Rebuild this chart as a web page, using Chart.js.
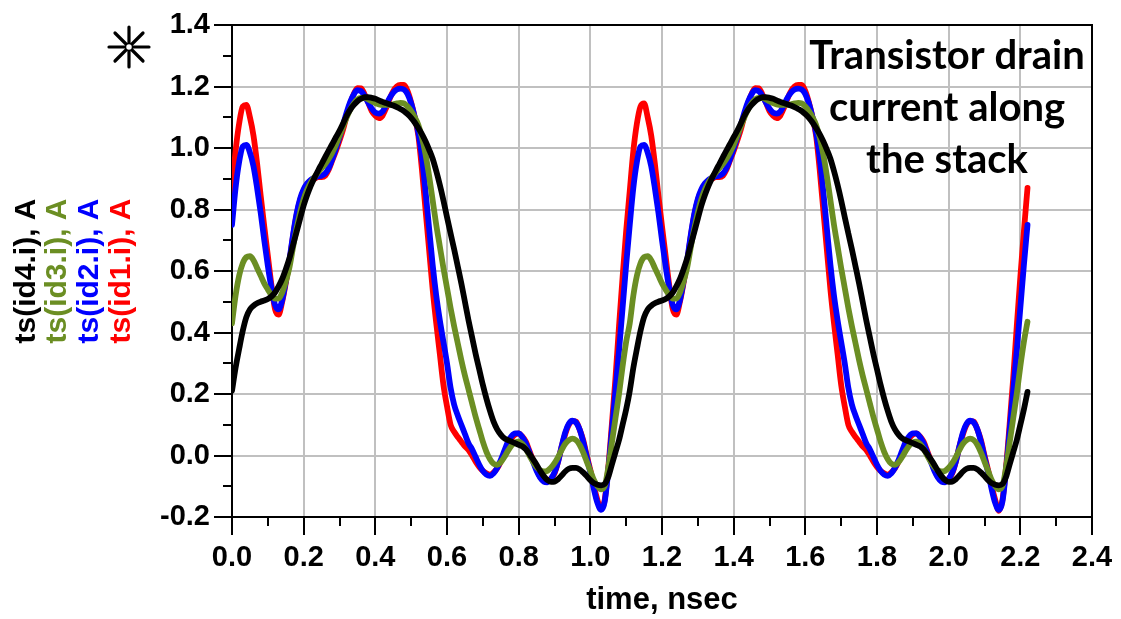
<!DOCTYPE html>
<html>
<head>
<meta charset="utf-8">
<script src="https://cdn.jsdelivr.net/npm/chart.js@4.4.1/dist/chart.umd.min.js"></script>
<style>
  html,body{margin:0;padding:0;background:#fff;overflow:hidden}
  #wrap{position:relative;width:1121px;height:619px}
</style>
</head>
<body>
<div id="wrap"><canvas id="c" width="1121" height="619"></canvas></div>
<script>
/* Transistor drain current along the stack — ts(id1..id4.i) vs time */

// sample times, nsec
const TIME_NS=[
0.00,0.01,0.02,0.03,0.04,0.05,0.06,0.07,0.08,0.09,
0.10,0.11,0.12,0.13,0.14,0.15,0.16,0.17,0.18,0.19,
0.20,0.21,0.22,0.23,0.24,0.25,0.26,0.27,0.28,0.29,
0.30,0.31,0.32,0.33,0.34,0.35,0.36,0.37,0.38,0.39,
0.40,0.41,0.42,0.43,0.44,0.45,0.46,0.47,0.48,0.49,
0.50,0.51,0.52,0.53,0.54,0.55,0.56,0.57,0.58,0.59,
0.60,0.61,0.62,0.63,0.64,0.65,0.66,0.67,0.68,0.69,
0.70,0.71,0.72,0.73,0.74,0.75,0.76,0.77,0.78,0.79,
0.80,0.81,0.82,0.83,0.84,0.85,0.86,0.87,0.88,0.89,
0.90,0.91,0.92,0.93,0.94,0.95,0.96,0.97,0.98,0.99,
1.00,1.01,1.02,1.03,1.04,1.05,1.06,1.07,1.08,1.09,
1.10,1.11,1.12,1.13,1.14,1.15,1.16,1.17,1.18,1.19,
1.20,1.21,1.22,1.23,1.24,1.25,1.26,1.27,1.28,1.29,
1.30,1.31,1.32,1.33,1.34,1.35,1.36,1.37,1.38,1.39,
1.40,1.41,1.42,1.43,1.44,1.45,1.46,1.47,1.48,1.49,
1.50,1.51,1.52,1.53,1.54,1.55,1.56,1.57,1.58,1.59,
1.60,1.61,1.62,1.63,1.64,1.65,1.66,1.67,1.68,1.69,
1.70,1.71,1.72,1.73,1.74,1.75,1.76,1.77,1.78,1.79,
1.80,1.81,1.82,1.83,1.84,1.85,1.86,1.87,1.88,1.89,
1.90,1.91,1.92,1.93,1.94,1.95,1.96,1.97,1.98,1.99,
2.00,2.01,2.02,2.03,2.04,2.05,2.06,2.07,2.08,2.09,
2.10,2.11,2.12,2.13,2.14,2.15,2.16,2.17,2.18,2.19,
2.20,2.21,2.22];

// ts(id1.i), A  (red)
const ID1=[
0.86,0.99,1.08,1.135,1.14,1.10,1.04,0.95,0.845,0.745,
0.65,0.555,0.476,0.458,0.50,0.56,0.628,0.71,0.78,0.83,
0.861,0.882,0.894,0.90,0.905,0.905,0.91,0.93,0.96,0.99,
1.024,1.06,1.105,1.145,1.176,1.195,1.194,1.175,1.148,1.12,
1.105,1.097,1.105,1.13,1.16,1.185,1.20,1.205,1.205,1.185,
1.148,1.10,1.04,0.93,0.80,0.67,0.54,0.43,0.33,0.23,
0.16,0.10,0.077,0.06,0.045,0.03,0.018,0.0,-0.02,-0.037,
-0.05,-0.058,-0.062,-0.055,-0.042,-0.02,0.007,0.035,0.056,0.068,
0.072,0.062,0.045,0.015,-0.015,-0.045,-0.07,-0.082,-0.085,-0.075,
-0.058,-0.02,0.029,0.07,0.10,0.112,0.11,0.085,0.05,0.0,
-0.047,-0.10,-0.145,-0.175,-0.145,-0.04,0.10,0.25,0.42,0.58,
0.73,
0.86,0.99,1.08,1.135,1.145,1.10,1.04,0.95,0.845,0.745,
0.65,0.555,0.476,0.458,0.50,0.56,0.628,0.71,0.78,0.83,
0.861,0.882,0.894,0.90,0.905,0.905,0.91,0.93,0.96,0.99,
1.024,1.06,1.105,1.145,1.176,1.195,1.194,1.175,1.148,1.12,
1.105,1.097,1.105,1.13,1.16,1.185,1.20,1.205,1.205,1.185,
1.148,1.10,1.04,0.93,0.80,0.67,0.54,0.43,0.33,0.23,
0.16,0.10,0.077,0.06,0.045,0.03,0.018,0.0,-0.02,-0.037,
-0.05,-0.058,-0.062,-0.055,-0.042,-0.02,0.007,0.035,0.056,0.068,
0.072,0.062,0.045,0.015,-0.015,-0.045,-0.07,-0.082,-0.085,-0.075,
-0.058,-0.02,0.029,0.07,0.10,0.112,0.11,0.085,0.05,0.0,
-0.047,-0.10,-0.145,-0.18,-0.145,-0.04,0.10,0.25,0.42,0.58,
0.73,0.87];

// ts(id2.i), A  (blue)
const ID2=[
0.75,0.87,0.955,1.005,1.01,0.985,0.94,0.87,0.79,0.70,
0.617,0.545,0.49,0.475,0.505,0.565,0.634,0.715,0.785,0.835,
0.866,0.885,0.897,0.903,0.908,0.91,0.917,0.935,0.964,0.998,
1.035,1.075,1.116,1.15,1.175,1.188,1.185,1.17,1.148,1.128,
1.115,1.112,1.118,1.14,1.163,1.18,1.19,1.193,1.19,1.175,
1.145,1.10,1.05,0.97,0.86,0.74,0.62,0.52,0.44,0.37,
0.30,0.22,0.165,0.13,0.10,0.07,0.04,0.02,-0.005,-0.03,
-0.05,-0.062,-0.066,-0.058,-0.04,-0.015,0.015,0.045,0.063,0.072,
0.072,0.06,0.04,0.01,-0.02,-0.05,-0.072,-0.085,-0.087,-0.076,
-0.055,-0.02,0.03,0.075,0.103,0.113,0.108,0.085,0.045,-0.005,
-0.055,-0.11,-0.155,-0.177,-0.15,-0.05,0.08,0.21,0.34,0.48,
0.62,
0.75,0.87,0.955,1.005,1.01,0.985,0.94,0.87,0.79,0.70,
0.617,0.545,0.49,0.475,0.505,0.565,0.634,0.715,0.785,0.835,
0.866,0.885,0.897,0.903,0.908,0.91,0.917,0.935,0.964,0.998,
1.035,1.075,1.116,1.15,1.175,1.188,1.185,1.17,1.148,1.128,
1.115,1.112,1.118,1.14,1.163,1.18,1.19,1.193,1.19,1.175,
1.145,1.10,1.05,0.97,0.86,0.74,0.62,0.52,0.44,0.37,
0.30,0.22,0.165,0.13,0.10,0.07,0.04,0.02,-0.005,-0.03,
-0.05,-0.062,-0.066,-0.058,-0.04,-0.015,0.015,0.045,0.063,0.072,
0.072,0.06,0.04,0.01,-0.02,-0.05,-0.072,-0.085,-0.087,-0.076,
-0.055,-0.02,0.03,0.075,0.103,0.113,0.108,0.085,0.045,-0.005,
-0.055,-0.11,-0.155,-0.177,-0.15,-0.05,0.08,0.21,0.34,0.48,
0.62,0.75];

// ts(id3.i), A  (olive)
const ID3=[
0.43,0.52,0.585,0.625,0.645,0.648,0.635,0.61,0.585,0.56,
0.54,0.522,0.51,0.51,0.53,0.565,0.61,0.675,0.737,0.79,
0.834,0.865,0.888,0.905,0.92,0.934,0.948,0.965,0.986,1.01,
1.04,1.07,1.10,1.125,1.145,1.158,1.163,1.163,1.158,1.152,
1.146,1.142,1.14,1.14,1.14,1.142,1.145,1.147,1.145,1.135,
1.12,1.10,1.075,1.035,0.98,0.91,0.83,0.75,0.68,0.61,
0.545,0.48,0.42,0.365,0.31,0.26,0.215,0.17,0.125,0.085,
0.045,0.012,-0.012,-0.027,-0.03,-0.022,-0.005,0.015,0.032,0.042,
0.045,0.038,0.022,0.0,-0.02,-0.038,-0.048,-0.052,-0.05,-0.04,
-0.025,-0.005,0.018,0.038,0.05,0.055,0.05,0.035,0.01,-0.02,
-0.05,-0.08,-0.10,-0.11,-0.10,-0.04,0.04,0.12,0.20,0.29,
0.37,
0.43,0.52,0.585,0.625,0.645,0.648,0.635,0.61,0.585,0.56,
0.54,0.522,0.51,0.51,0.53,0.565,0.61,0.675,0.737,0.79,
0.834,0.865,0.888,0.905,0.92,0.934,0.948,0.965,0.986,1.01,
1.04,1.07,1.10,1.125,1.145,1.158,1.163,1.163,1.158,1.152,
1.146,1.142,1.14,1.14,1.14,1.142,1.145,1.147,1.145,1.135,
1.12,1.10,1.075,1.035,0.98,0.91,0.83,0.75,0.68,0.61,
0.545,0.48,0.42,0.365,0.31,0.26,0.215,0.17,0.125,0.085,
0.045,0.012,-0.012,-0.027,-0.03,-0.022,-0.005,0.015,0.032,0.042,
0.045,0.038,0.022,0.0,-0.02,-0.038,-0.048,-0.052,-0.05,-0.04,
-0.025,-0.005,0.018,0.038,0.05,0.055,0.05,0.035,0.01,-0.02,
-0.05,-0.08,-0.10,-0.11,-0.10,-0.04,0.04,0.12,0.20,0.29,
0.37,0.435];

// ts(id4.i), A  (black)
const ID4=[
0.21,0.285,0.347,0.405,0.45,0.475,0.487,0.495,0.50,0.504,
0.509,0.517,0.53,0.55,0.574,0.605,0.64,0.683,0.726,0.77,
0.813,0.848,0.878,0.903,0.926,0.948,0.97,0.992,1.013,1.035,
1.056,1.08,1.105,1.125,1.14,1.152,1.16,1.165,1.165,1.163,
1.16,1.155,1.15,1.146,1.142,1.138,1.133,1.127,1.12,1.11,
1.098,1.083,1.065,1.045,1.022,0.995,0.965,0.925,0.88,0.83,
0.775,0.722,0.67,0.615,0.56,0.50,0.44,0.385,0.33,0.28,
0.23,0.185,0.145,0.11,0.085,0.068,0.056,0.05,0.045,0.04,
0.035,0.03,0.02,0.005,-0.012,-0.03,-0.05,-0.067,-0.08,-0.086,
-0.085,-0.077,-0.065,-0.052,-0.043,-0.04,-0.04,-0.045,-0.055,-0.067,
-0.08,-0.09,-0.095,-0.097,-0.093,-0.07,-0.03,0.01,0.05,0.10,
0.15,
0.21,0.285,0.347,0.405,0.45,0.475,0.487,0.495,0.50,0.504,
0.509,0.517,0.53,0.55,0.574,0.605,0.64,0.683,0.726,0.77,
0.813,0.848,0.878,0.903,0.926,0.948,0.97,0.992,1.013,1.035,
1.056,1.08,1.105,1.125,1.14,1.152,1.16,1.165,1.165,1.163,
1.16,1.155,1.15,1.146,1.142,1.138,1.133,1.127,1.12,1.11,
1.098,1.083,1.065,1.045,1.022,0.995,0.965,0.925,0.88,0.83,
0.775,0.722,0.67,0.615,0.56,0.50,0.44,0.385,0.33,0.28,
0.23,0.185,0.145,0.11,0.085,0.068,0.056,0.05,0.045,0.04,
0.035,0.03,0.02,0.005,-0.012,-0.03,-0.05,-0.067,-0.08,-0.086,
-0.085,-0.077,-0.065,-0.052,-0.043,-0.04,-0.04,-0.045,-0.055,-0.067,
-0.08,-0.09,-0.095,-0.097,-0.093,-0.07,-0.03,0.01,0.05,0.10,
0.15,0.207];

const MINOR_X=[0.1,0.3,0.5,0.7,0.9,1.1,1.3,1.5,1.7,1.9,2.1,2.3];
const MINOR_Y=[-0.1,0.1,0.3,0.5,0.7,0.9,1.1,1.3];
const Y_TITLES=['ts(id4.i), A','ts(id3.i), A','ts(id2.i), A','ts(id1.i), A'];
const NOTE_LINES=['Transistor drain','current along','the stack'];

const RED='#ff0000',BLUE='#0000ff',OLIVE='#6b8e23',BLK='#000000',GRID='#c0c0c0';
const Y_TITLE_COLORS=[BLK,OLIVE,BLUE,RED];
const FONT="'Liberation Sans', Arial, sans-serif";

const pts=ys=>TIME_NS.map((t,i)=>({x:t,y:ys[i]}));
const fmt=v=>Math.abs(v)<1e-9?'0.0':v.toFixed(1);

// black frame + short minor ticks
const framePlugin={
  id:'frame',
  beforeDatasetsDraw(chart){
    const {ctx,chartArea:a,scales:{x,y}}=chart;
    ctx.save();
    ctx.strokeStyle='#000';ctx.lineWidth=2;
    ctx.strokeRect(a.left,a.top,a.right-a.left,a.bottom-a.top);
    ctx.beginPath();
    MINOR_X.forEach(v=>{const px=Math.round(x.getPixelForValue(v));ctx.moveTo(px,a.bottom);ctx.lineTo(px,a.bottom+9);});
    MINOR_Y.forEach(v=>{const py=Math.round(y.getPixelForValue(v));ctx.moveTo(a.left-9,py);ctx.lineTo(a.left,py);});
    ctx.stroke();
    ctx.restore();
  }
};

// coloured y titles, note text and the marker glyph
const textPlugin={
  id:'texts',
  afterDraw(chart){
    const {ctx,chartArea:a}=chart;
    const midY=(a.top+a.bottom)/2;
    ctx.save();
    ctx.font="bold 30px "+FONT;
    ctx.textAlign='center';ctx.textBaseline='alphabetic';
    const bx=[35,66,98,130];
    Y_TITLES.forEach((s,i)=>{
      ctx.save();ctx.translate(bx[i],midY);ctx.rotate(-Math.PI/2);
      ctx.fillStyle=Y_TITLE_COLORS[i];ctx.fillText(s,0,0);ctx.restore();
    });
    ctx.fillStyle='#000';
    ctx.font="bold 40px Lato, 'Open Sans', sans-serif";
    [69,121,173].forEach((by,i)=>ctx.fillText(NOTE_LINES[i],947,by));
    // marker
    const cx=129,cy=47;
    ctx.strokeStyle='#000';ctx.lineWidth=3.2;ctx.lineCap='round';ctx.beginPath();
    ctx.moveTo(cx,cy-20);ctx.lineTo(cx,cy+20);
    ctx.moveTo(cx-20,cy);ctx.lineTo(cx+20,cy);
    ctx.moveTo(cx-14,cy-14);ctx.lineTo(cx+14,cy+14);
    ctx.moveTo(cx-14,cy+14);ctx.lineTo(cx+14,cy-14);
    ctx.stroke();
    ctx.fillStyle='#fff';ctx.beginPath();ctx.arc(cx,cy,3.5,0,Math.PI*2);ctx.fill();
    ctx.lineWidth=1.5;ctx.stroke();
    ctx.restore();
  }
};

const tickFont={family:FONT,weight:'bold',size:29};
const line=(label,data,color)=>({label,data:pts(data),borderColor:color,borderWidth:5.8,pointRadius:0,
  cubicInterpolationMode:'monotone',borderCapStyle:'round',borderJoinStyle:'round',fill:false});

new Chart(document.getElementById('c'),{
  type:'line',
  data:{datasets:[
    line('ts(id4.i), A',ID4,BLK),
    line('ts(id3.i), A',ID3,OLIVE),
    line('ts(id2.i), A',ID2,BLUE),
    line('ts(id1.i), A',ID1,RED)
  ]},
  options:{
    responsive:false,animation:false,devicePixelRatio:1,parsing:false,
    layout:{padding:{left:140,right:29,top:25,bottom:0}},
    plugins:{legend:{display:false},tooltip:{enabled:false}},
    scales:{
      x:{type:'linear',min:0,max:2.4,
        ticks:{stepSize:0.2,color:'#000',font:tickFont,padding:6,maxRotation:0,autoSkip:false,callback:v=>fmt(v)},
        grid:{color:GRID,lineWidth:2,tickLength:18,tickColor:'#000',tickWidth:2},
        border:{display:true,color:'#000',width:2},
        title:{display:true,text:'time, nsec',color:'#000',font:{family:FONT,weight:'bold',size:31},padding:{top:0,bottom:0}},
        afterFit:s=>{s.height=102;}
      },
      y:{type:'linear',min:-0.2,max:1.4,
        ticks:{stepSize:0.2,color:'#000',font:tickFont,padding:4,callback:v=>fmt(v)},
        grid:{color:GRID,lineWidth:2,tickLength:18,tickColor:'#000',tickWidth:2},
        border:{display:true,color:'#000',width:2},
        afterFit:s=>{s.width=92;}
      }
    }
  },
  plugins:[framePlugin,textPlugin]
});
</script>
</body>
</html>
